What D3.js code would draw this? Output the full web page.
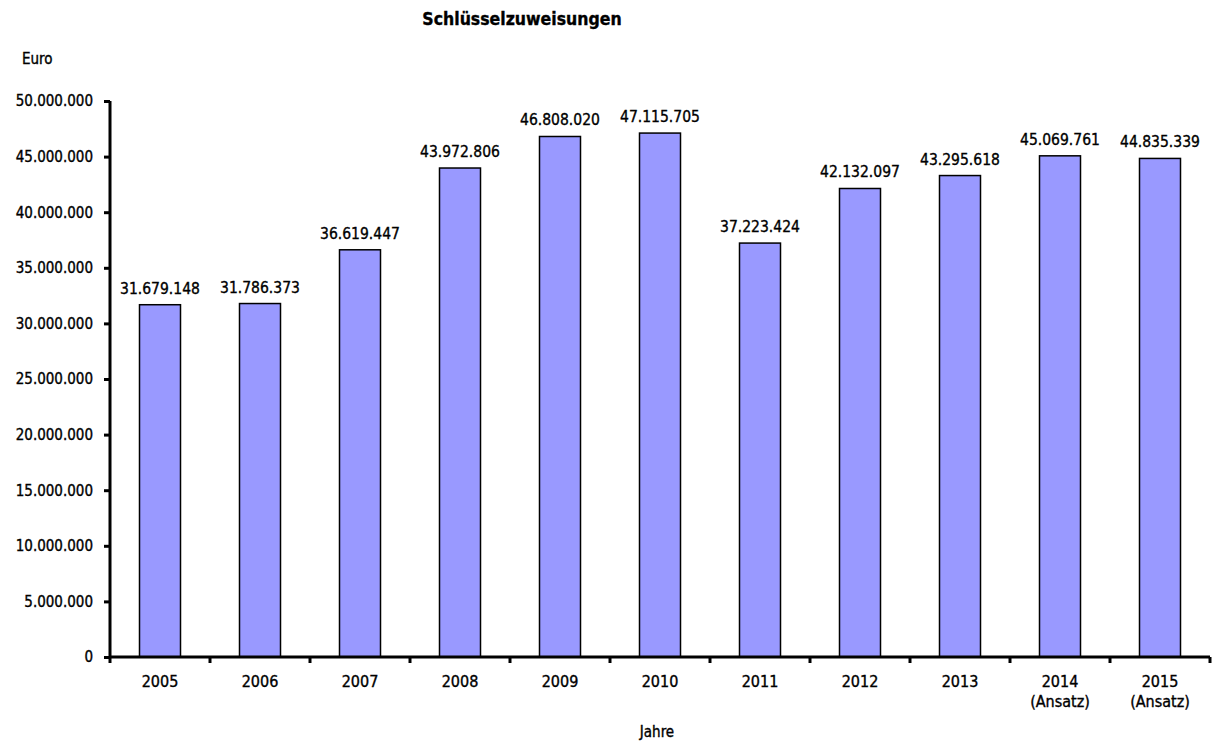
<!DOCTYPE html>
<html><head><meta charset="utf-8">
<script src="https://cdn.jsdelivr.net/npm/d3@7"></script>
<style>body{margin:0;background:#fff;} svg{display:block;} text{font-family:"DejaVu Sans Condensed","DejaVu Sans",sans-serif;fill:#000;stroke:#000;stroke-width:0.35px;}</style>
</head><body><svg id="c" width="1213" height="742"></svg>
<script>
const categories = ["2005","2006","2007","2008","2009","2010","2011","2012","2013","2014\n(Ansatz)","2015\n(Ansatz)"];
const values = [31679148,31786373,36619447,43972806,46808020,47115705,37223424,42132097,43295618,45069761,44835339];
const yTicks = [0,5000000,10000000,15000000,20000000,25000000,30000000,35000000,40000000,45000000,50000000];

const svg = d3.select("#c");
const fmt = v => d3.format(",")(v).replace(/,/g,".");
const x = d3.scaleBand().domain(categories).range([110,1210]).paddingInner(0.59).paddingOuter(0.295);
const xb = d3.scaleBand().domain(categories).range([110,1210]);
const y = d3.scaleLinear().domain([0,50000000]).range([657,101]);

svg.selectAll("rect.bar").data(values).enter().append("rect")
  .attr("x",(d,i)=>x(categories[i])).attr("width",x.bandwidth())
  .attr("y",d=>y(d)).attr("height",d=>y(0)-y(d))
  .attr("fill","#9999FF").attr("stroke","#000").attr("stroke-width",1.5);

svg.selectAll("text.val").data(values).enter().append("text")
  .attr("x",(d,i)=>x(categories[i])+x.bandwidth()/2).attr("y",d=>y(d)-11)
  .attr("text-anchor","middle").attr("font-size",15.5).text(d=>fmt(d));

// y axis
const yAxis = svg.append("g").attr("transform","translate(110,0)")
  .call(d3.axisLeft(y).tickValues(yTicks).tickSize(6).tickPadding(11).tickFormat(fmt));
yAxis.select(".domain").attr("stroke-width",3).attr("d","M0,101V657");
yAxis.selectAll(".tick line").attr("stroke-width",3);
yAxis.selectAll(".tick text").attr("font-size",15).attr("font-family","DejaVu Sans Condensed, DejaVu Sans, sans-serif");

// x axis
const xAxis = svg.append("g").attr("transform","translate(0,657)")
  .call(d3.axisBottom(xb).tickSize(0).tickFormat(""));
xAxis.select(".domain").attr("stroke-width",3).attr("d","M110,0H1210");
xAxis.selectAll(".tick").remove();
const bounds = d3.range(categories.length+1).map(i=>110+i*xb.bandwidth());
xAxis.selectAll("line.xt").data(bounds).enter().append("line")
  .attr("x1",d=>d).attr("x2",d=>d).attr("y1",0).attr("y2",6).attr("stroke","#000").attr("stroke-width",3);

categories.forEach(c=>{
  const lines = c.split("\n");
  const t = svg.append("text").attr("x",xb(c)+xb.bandwidth()/2).attr("y",687)
    .attr("text-anchor","middle").attr("font-size",16);
  lines.forEach((l,j)=>t.append("tspan").attr("x",xb(c)+xb.bandwidth()/2).attr("dy",j?20:0).text(l));
});

svg.append("text").attr("x",522).attr("y",25).attr("text-anchor","middle").attr("font-size",17.5).attr("font-weight","bold").text("Schlüsselzuweisungen");
svg.append("text").attr("x",22).attr("y",64).attr("font-size",15).text("Euro");
svg.append("text").attr("x",657).attr("y",737).attr("text-anchor","middle").attr("font-size",15).text("Jahre");
</script></body></html>
